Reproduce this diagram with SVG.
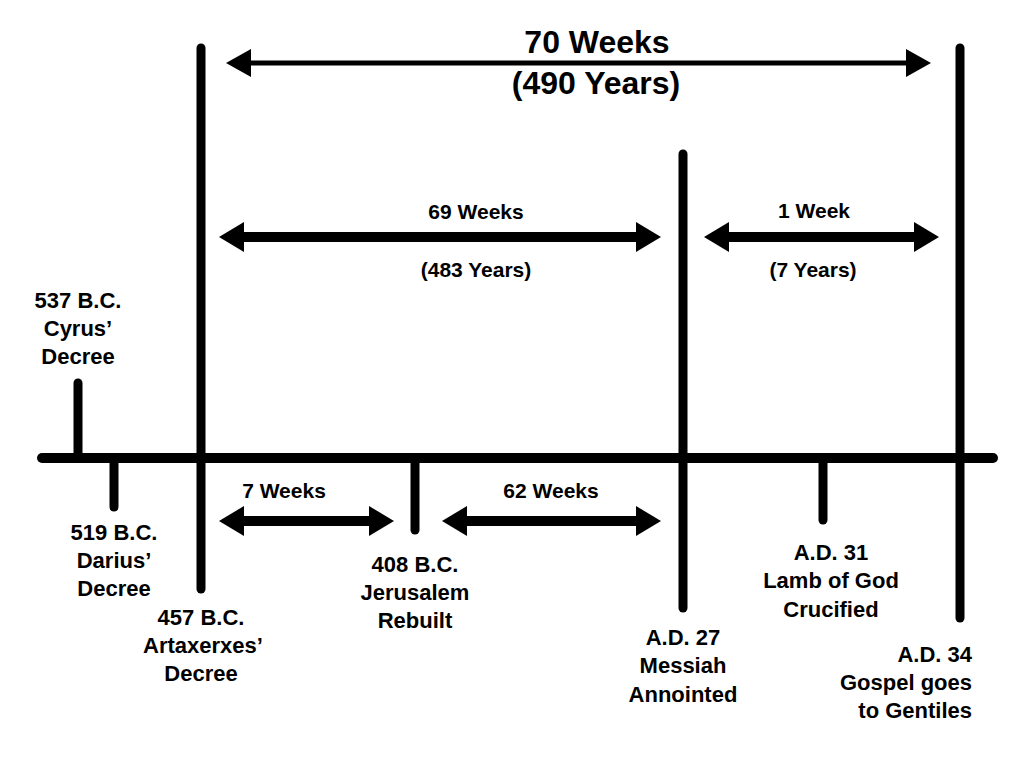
<svg xmlns="http://www.w3.org/2000/svg" width="1024" height="768" viewBox="0 0 1024 768">
  <style>
    .bar { stroke: #000; stroke-width: 9; stroke-linecap: round; fill: none; }
    .axis { stroke: #000; stroke-width: 10; stroke-linecap: round; fill: none; }
    .span { stroke: #000; stroke-width: 10; fill: none; }
    .span-thin { stroke: #000; stroke-width: 5; fill: none; }
    text { font-family: "Liberation Sans", Arial, sans-serif; font-weight: bold; fill: #000; text-anchor: middle; }
    .lbl { font-size: 22px; }
    .mid { font-size: 21px; }
    .big { font-size: 32px; }
    .right { text-anchor: end; }
  </style>
  <defs>
    <marker id="head" markerUnits="userSpaceOnUse" markerWidth="26" markerHeight="30" refX="1" refY="15" orient="auto-start-reverse" viewBox="0 0 26 30">
      <path d="M0,0 L25,15 L0,30 Z" fill="#000"/>
    </marker>
    <marker id="head-thin" markerUnits="userSpaceOnUse" markerWidth="26" markerHeight="28" refX="1" refY="14" orient="auto-start-reverse" viewBox="0 0 26 28">
      <path d="M0,0 L25,14 L0,28 Z" fill="#000"/>
    </marker>
  </defs>

  <rect width="1024" height="768" fill="#fff"/>

  <!-- timeline axis -->
  <g id="axis">
    <line class="axis" x1="42" y1="458" x2="993" y2="458"/>
  </g>

  <!-- events on the timeline -->
  <g id="cyrus">
    <line class="bar" x1="78" y1="383" x2="78" y2="458"/>
    <text class="lbl" x="78" y="308">537 B.C.</text>
    <text class="lbl" x="78" y="336">Cyrus’</text>
    <text class="lbl" x="78" y="364">Decree</text>
  </g>
  <g id="darius">
    <line class="bar" x1="114" y1="458" x2="114" y2="507"/>
    <text class="lbl" x="114" y="540">519 B.C.</text>
    <text class="lbl" x="114" y="568">Darius’</text>
    <text class="lbl" x="114" y="596">Decree</text>
  </g>
  <g id="artaxerxes">
    <line class="bar" x1="201" y1="48" x2="201" y2="589"/>
    <text class="lbl" x="201" y="625">457 B.C.</text>
    <text class="lbl" x="203" y="653">Artaxerxes’</text>
    <text class="lbl" x="201" y="681">Decree</text>
  </g>
  <g id="jerusalem">
    <line class="bar" x1="415" y1="458" x2="415" y2="530"/>
    <text class="lbl" x="415" y="572">408 B.C.</text>
    <text class="lbl" x="415" y="600">Jerusalem</text>
    <text class="lbl" x="415" y="628">Rebuilt</text>
  </g>
  <g id="messiah">
    <line class="bar" x1="683" y1="154" x2="683" y2="608"/>
    <text class="lbl" x="683" y="645">A.D. 27</text>
    <text class="lbl" x="683" y="673">Messiah</text>
    <text class="lbl" x="683" y="702">Annointed</text>
  </g>
  <g id="crucified">
    <line class="bar" x1="823" y1="458" x2="823" y2="520"/>
    <text class="lbl" x="831" y="560">A.D. 31</text>
    <text class="lbl" x="831" y="588">Lamb of God</text>
    <text class="lbl" x="831" y="617">Crucified</text>
  </g>
  <g id="gentiles">
    <line class="bar" x1="960" y1="48" x2="960" y2="618"/>
    <text class="lbl right" x="972" y="662">A.D. 34</text>
    <text class="lbl right" x="972" y="690">Gospel goes</text>
    <text class="lbl right" x="972" y="718">to Gentiles</text>
  </g>

  <!-- spans between events -->
  <g id="connectors">
    <line class="span-thin" x1="250" y1="63" x2="907" y2="63" marker-start="url(#head-thin)" marker-end="url(#head-thin)"/>
    <line class="span" x1="243" y1="237" x2="637" y2="237" marker-start="url(#head)" marker-end="url(#head)"/>
    <line class="span" x1="728" y1="237" x2="915" y2="237" marker-start="url(#head)" marker-end="url(#head)"/>
    <line class="span" x1="243" y1="521" x2="370" y2="521" marker-start="url(#head)" marker-end="url(#head)"/>
    <line class="span" x1="466" y1="521" x2="637" y2="521" marker-start="url(#head)" marker-end="url(#head)"/>
  </g>

  <!-- span labels -->
  <g id="span-labels">
    <text class="big" x="597" y="53">70 Weeks</text>
    <text class="big" x="596" y="94">(490 Years)</text>
    <text class="mid" x="476" y="219">69 Weeks</text>
    <text class="mid" x="476" y="277">(483 Years)</text>
    <text class="mid" x="814" y="218">1 Week</text>
    <text class="mid" x="813" y="277">(7 Years)</text>
    <text class="mid" x="284" y="498">7 Weeks</text>
    <text class="mid" x="551" y="498">62 Weeks</text>
  </g>
</svg>
